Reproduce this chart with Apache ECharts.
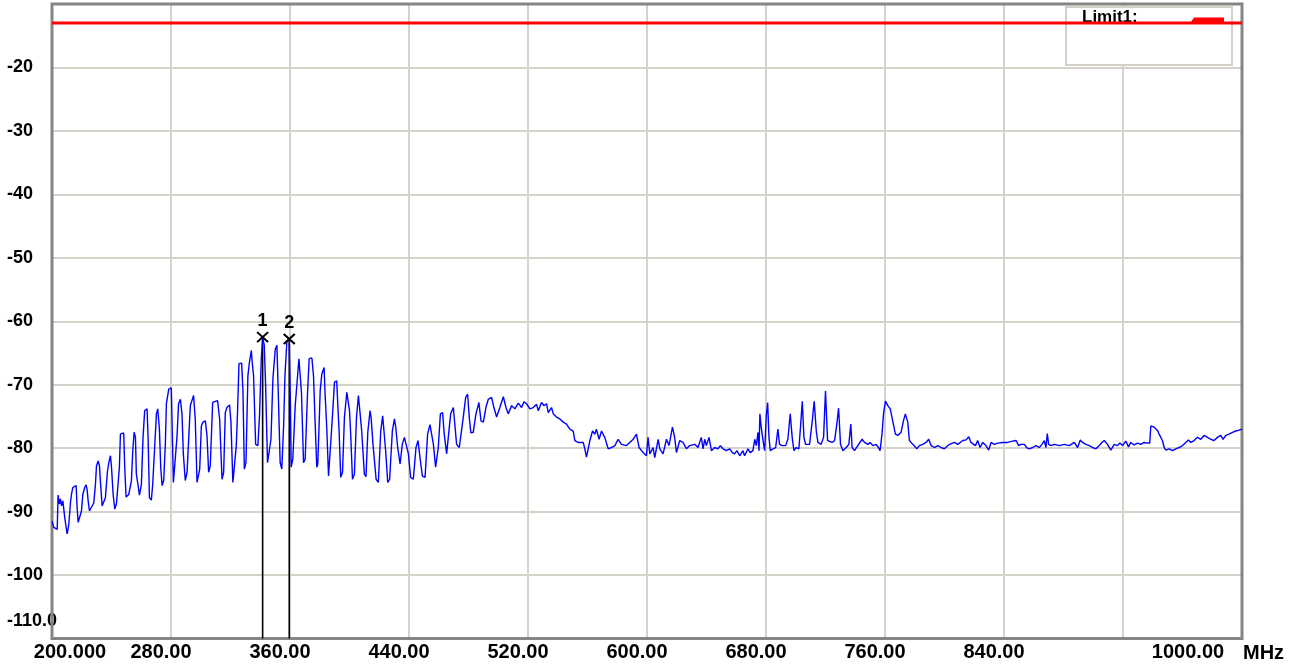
<!DOCTYPE html>
<html>
<head>
<meta charset="utf-8">
<title>Spectrum scan 200 – 1000 MHz</title>
<script src="https://cdn.jsdelivr.net/npm/echarts@6/dist/echarts.min.js"></script>
<style>
  html, body { margin: 0; padding: 0; background: #ffffff; }
  #chart { width: 1294px; height: 667px; }
</style>
</head>
<body>
<div id="chart"></div>
<script>
// ---- axis ticks ----
const xTickValues = [200, 280, 360, 440, 520, 600, 680, 760, 840, 920, 1000];
const xTickLabels = ['200.000', '280.00', '360.00', '440.00', '520.00', '600.00', '680.00', '760.00', '840.00', '', '1000.00'];
const xUnit = 'MHz';
const yTickValues = [-110, -100, -90, -80, -70, -60, -50, -40, -30, -20, -10];
const yTickLabels = ['-110.0', '-100', '-90', '-80', '-70', '-60', '-50', '-40', '-30', '-20', ''];

// ---- limit line ----
const limitName = 'Limit1:';
const limitDb = -13;

// ---- markers ----
const markerNames = ['1', '2'];
const markerFreq = [341.6, 359.5];
const markerDb = [-62.5, -62.8];

// ---- measured trace (MHz / dB) ----
const traceFreq = [
  200.0, 201.2, 203.5, 204.1, 205.0, 205.7, 206.4, 207.3, 207.9, 208.6, 209.5, 210.2,
  211.3, 212.4, 213.1, 214.0, 214.7, 216.2, 216.9, 217.6, 218.7, 219.8, 220.7, 222.0,
  222.9, 223.6, 224.3, 225.2, 226.5, 228.1, 229.2, 229.9, 231.0, 231.9, 232.6, 233.7,
  234.8, 235.9, 237.3, 238.2, 239.3, 240.0, 241.1, 242.2, 243.3, 244.4, 245.3, 246.0,
  248.2, 248.9, 249.8, 251.6, 253.4, 254.3, 255.2, 256.1, 256.7, 257.9, 258.8, 260.1,
  261.2, 262.3, 263.9, 264.6, 265.5, 266.8, 267.7, 269.0, 270.2, 271.1, 272.2, 273.1,
  274.0, 275.1, 276.2, 276.9, 278.5, 280.2, 280.9, 281.6, 282.9, 284.0, 285.1, 286.3,
  287.4, 288.3, 289.6, 290.8, 291.9, 293.0, 294.1, 295.2, 296.3, 297.5, 299.3, 300.4,
  301.5, 303.1, 304.2, 305.3, 306.4, 308.0, 309.1, 311.3, 312.7, 314.3, 315.4, 316.5,
  317.6, 319.4, 320.3, 321.6, 322.8, 323.9, 324.8, 325.7, 327.5, 328.4, 329.3, 330.4,
  331.7, 332.6, 334.0, 334.6, 335.5, 336.9, 338.4, 339.5, 340.7, 341.6, 342.7, 343.6,
  344.9, 345.8, 347.2, 348.5, 350.1, 351.2, 352.1, 353.4, 354.5, 355.7, 356.6, 357.9,
  359.5, 360.3, 360.8, 361.9, 363.5, 365.1, 366.0, 366.9, 367.7, 369.1, 370.2, 371.8,
  372.9, 374.7, 375.8, 376.9, 378.0, 378.7, 380.3, 381.4, 382.9, 383.6, 384.7, 385.9,
  387.0, 388.5, 389.9, 391.4, 392.1, 393.0, 394.1, 395.3, 396.6, 398.2, 399.3, 400.0,
  400.8, 402.0, 403.3, 404.7, 406.0, 407.1, 408.2, 410.0, 411.1, 412.3, 413.8, 414.5,
  415.8, 417.9, 419.4, 421.0, 422.3, 423.5, 424.3, 425.7, 427.0, 428.8, 430.2, 431.1,
  432.4, 434.0, 435.5, 436.9, 438.2, 439.6, 441.1, 442.9, 444.7, 446.1, 447.4, 449.0,
  450.8, 452.5, 454.1, 455.2, 456.4, 457.9, 459.7, 461.1, 462.6, 463.7, 465.3, 466.4,
  468.0, 469.8, 470.9, 472.0, 473.8, 476.5, 478.1, 479.4, 480.5, 481.6, 483.2, 485.0,
  487.0, 488.4, 490.0, 491.7, 493.3, 495.5, 497.1, 498.9, 501.1, 503.4, 505.2, 506.7,
  509.0, 511.2, 513.5, 515.7, 517.3, 519.0, 521.3, 523.5, 525.8, 526.9, 529.1, 530.7,
  532.5, 533.6, 535.8, 537.0, 539.2, 541.4, 543.7, 545.9, 548.1, 550.4, 551.5, 553.7,
  557.1, 558.2, 559.3, 561.6, 563.4, 564.9, 566.0, 567.8, 569.4, 571.6, 573.9, 576.1,
  578.4, 580.6, 582.8, 586.2, 588.4, 590.7, 592.9, 594.7, 597.4, 599.6, 600.7, 601.9,
  604.1, 605.2, 607.5, 608.6, 610.8, 613.1, 614.8, 617.1, 618.6, 619.8, 622.0, 624.2,
  626.5, 628.7, 632.1, 634.3, 636.5, 637.7, 638.8, 639.9, 641.7, 643.3, 645.5, 647.7,
  649.3, 651.1, 653.3, 655.6, 657.4, 658.9, 660.5, 662.3, 664.5, 665.6, 667.9, 669.4,
  671.2, 672.4, 673.5, 674.6, 675.3, 675.9, 676.8, 678.0, 679.1, 680.2, 681.1, 682.0,
  682.9, 684.7, 686.5, 688.0, 689.1, 690.9, 693.2, 694.7, 696.3, 697.6, 698.8, 700.3,
  702.1, 703.0, 704.4, 705.5, 706.6, 709.3, 711.1, 712.4, 713.8, 714.9, 717.1, 718.7,
  720.0, 721.4, 722.7, 724.5, 726.1, 727.6, 728.8, 730.1, 731.7, 733.9, 735.7, 737.0,
  737.9, 739.5, 741.7, 744.6, 746.2, 748.5, 750.0, 751.8, 754.0, 755.6, 756.7, 758.1,
  759.0, 760.3, 761.9, 763.5, 765.2, 767.0, 768.6, 770.8, 772.4, 773.7, 775.3, 776.4,
  778.7, 781.4, 783.1, 785.4, 787.6, 789.4, 791.0, 793.2, 795.5, 797.7, 799.9, 803.3,
  806.7, 808.9, 812.3, 814.5, 816.3, 817.8, 819.0, 820.8, 822.3, 823.9, 825.7, 827.9,
  829.7, 831.3, 833.5, 835.8, 839.1, 842.5, 845.8, 848.1, 849.9, 851.4, 853.7, 855.2,
  857.0, 859.3, 861.5, 863.7, 865.5, 867.1, 868.2, 869.1, 870.0, 871.6, 873.8, 877.2,
  880.5, 883.9, 887.2, 889.5, 891.3, 892.8, 895.1, 897.3, 899.5, 901.8, 904.0, 905.8,
  907.4, 909.6, 911.8, 914.1, 916.3, 917.9, 919.7, 921.9, 923.7, 925.3, 927.5, 929.8,
  932.0, 934.2, 936.5, 938.0, 938.7, 941.0, 943.2, 944.3, 946.5, 947.7, 948.8, 951.0,
  953.3, 955.5, 957.7, 960.0, 962.2, 964.0, 965.6, 967.8, 970.0, 972.3, 974.5, 976.8,
  979.0, 981.2, 983.5, 985.7, 987.3, 989.1, 991.3, 993.6, 995.8, 997.6, 1000.0
];
const traceDb = [
  -91.5, -92.5, -92.8, -87.4, -88.8, -88.0, -89.1, -88.3, -88.6, -91.0, -92.5, -93.5,
  -92.0, -88.6, -87.3, -86.2, -85.9, -85.9, -89.4, -91.7, -91.5, -89.9, -87.3, -86.2,
  -85.8, -86.5, -88.3, -89.9, -90.1, -88.6, -85.7, -82.8, -82.0, -82.8, -85.4, -89.1,
  -89.4, -87.8, -83.6, -82.3, -81.2, -83.0, -87.3, -89.6, -88.8, -85.7, -83.0, -77.8,
  -77.6, -83.0, -87.7, -87.3, -85.1, -80.4, -77.5, -78.3, -84.1, -85.9, -87.4, -85.7,
  -78.3, -74.1, -73.8, -78.3, -87.8, -88.2, -85.7, -79.9, -74.6, -73.8, -77.0, -83.0,
  -85.9, -85.1, -79.4, -73.0, -70.7, -70.5, -77.8, -85.4, -85.1, -78.3, -73.0, -72.3,
  -74.6, -80.9, -85.1, -83.8, -78.5, -73.3, -72.5, -71.7, -75.4, -85.4, -83.3, -76.5,
  -75.9, -75.7, -78.0, -83.8, -82.8, -72.8, -72.5, -72.5, -75.4, -84.9, -83.8, -74.4,
  -73.6, -73.2, -75.9, -85.4, -85.7, -79.6, -73.8, -66.7, -66.6, -71.2, -83.3, -82.3,
  -68.6, -66.7, -64.6, -66.5, -68.6, -79.4, -79.6, -74.9, -65.9, -62.5, -63.8, -70.1,
  -82.3, -82.5, -78.6, -69.1, -64.4, -63.8, -71.2, -82.3, -83.3, -76.5, -68.6, -63.2,
  -62.8, -73.3, -83.0, -81.7, -73.3, -68.6, -65.9, -65.9, -71.2, -82.3, -81.7, -71.2,
  -65.9, -65.8, -68.6, -76.0, -83.0, -82.5, -70.9, -68.3, -67.3, -71.5, -76.7, -84.4,
  -84.1, -75.1, -69.6, -69.4, -73.0, -77.3, -84.6, -83.8, -75.1, -71.2, -71.0, -74.1,
  -77.8, -84.9, -84.1, -75.1, -71.7, -71.7, -77.3, -84.1, -84.5, -77.5, -74.1, -75.1,
  -79.4, -84.9, -85.4, -77.3, -74.9, -75.1, -80.4, -85.4, -84.9, -77.3, -75.4, -76.7,
  -79.9, -82.5, -79.4, -78.3, -78.6, -80.9, -84.6, -84.9, -79.9, -78.8, -81.5, -84.4,
  -84.6, -77.8, -76.3, -76.2, -79.4, -83.0, -79.9, -74.6, -74.4, -77.8, -80.9, -80.7,
  -74.6, -73.6, -73.8, -79.4, -79.9, -75.1, -72.0, -71.5, -75.1, -77.6, -77.5, -74.6,
  -72.8, -75.7, -75.9, -73.6, -72.3, -72.0, -73.6, -75.1, -73.6, -71.9, -73.6, -74.6,
  -73.3, -73.8, -72.9, -73.6, -72.7, -73.0, -73.8, -73.6, -73.1, -74.1, -72.8, -73.3,
  -73.0, -74.4, -73.6, -74.6, -75.1, -75.4, -75.9, -76.2, -77.0, -77.3, -78.8, -79.1,
  -79.1, -80.1, -81.4, -78.8, -77.3, -77.8, -77.0, -78.6, -77.3, -78.3, -80.1, -79.9,
  -79.6, -78.6, -79.4, -79.6, -79.1, -78.6, -77.8, -79.9, -80.7, -81.2, -78.3, -80.9,
  -79.9, -81.5, -78.6, -80.1, -80.9, -78.6, -79.6, -76.7, -78.3, -80.7, -78.8, -79.1,
  -80.1, -79.6, -79.4, -79.9, -78.3, -80.1, -78.6, -79.6, -78.3, -80.4, -79.9, -80.1,
  -79.6, -80.1, -80.4, -80.1, -80.7, -80.9, -80.4, -81.2, -80.4, -81.2, -80.1, -80.7,
  -80.4, -78.6, -79.6, -77.5, -80.4, -74.6, -76.7, -78.8, -80.4, -74.9, -72.8, -78.3,
  -80.4, -80.1, -79.9, -77.0, -79.4, -79.6, -79.6, -78.6, -74.6, -78.3, -80.4, -79.9,
  -80.1, -77.3, -72.6, -78.3, -79.4, -79.4, -75.7, -72.6, -77.3, -79.1, -79.4, -78.3,
  -71.0, -78.8, -78.6, -79.1, -78.8, -76.2, -73.7, -79.4, -80.4, -79.9, -79.4, -76.2,
  -79.9, -80.4, -79.6, -78.6, -79.1, -79.4, -79.1, -79.6, -79.4, -79.9, -80.4, -77.5,
  -74.6, -72.6, -73.3, -73.8, -75.7, -77.8, -78.0, -77.5, -75.7, -74.6, -75.9, -78.8,
  -79.4, -80.1, -79.6, -79.4, -79.1, -78.6, -79.6, -79.9, -79.6, -79.9, -80.1, -79.4,
  -79.1, -79.4, -78.8, -78.7, -78.2, -79.1, -78.8, -79.6, -78.8, -79.9, -79.1, -79.6,
  -80.3, -79.1, -79.4, -79.2, -79.1, -79.1, -78.9, -78.8, -79.6, -79.4, -79.4, -79.9,
  -80.1, -79.9, -79.6, -79.9, -79.4, -78.8, -79.9, -77.7, -79.4, -79.6, -79.4, -79.6,
  -79.4, -79.6, -79.1, -79.9, -78.7, -79.1, -79.4, -79.6, -79.9, -80.1, -79.6, -79.1,
  -78.8, -79.4, -80.3, -79.4, -79.6, -79.2, -79.6, -78.9, -79.8, -79.1, -79.5, -79.2,
  -79.4, -79.1, -79.2, -79.2, -76.5, -76.7, -77.2, -77.8, -78.8, -79.9, -80.3, -80.1,
  -80.4, -80.1, -79.9, -79.6, -79.1, -78.7, -79.1, -78.8, -78.3, -78.6, -78.0, -78.3,
  -78.6, -78.8, -78.3, -78.0, -78.6, -78.0, -77.8, -77.5, -77.3, -77.2, -77.0
];

const FONT = "'Liberation Sans', Arial, sans-serif";

function xLabel(value) {
  const i = xTickValues.indexOf(Math.round(value));
  if (i < 0 || !xTickLabels[i]) return '';
  if (i === 0) return '{first|' + xTickLabels[i] + '}';
  if (i === xTickValues.length - 1) return '{last|' + xTickLabels[i] + '}';
  return '{mid|' + xTickLabels[i] + '}';
}

function yLabel(value) {
  const i = yTickValues.indexOf(Math.round(value));
  if (i < 0 || !yTickLabels[i]) return '';
  return (i === 0 ? '{low|' : '{n|') + yTickLabels[i] + '}';
}

const xText = { fontFamily: FONT, fontWeight: 'bold', fontSize: 20, color: '#000000' };
const yText = { fontFamily: FONT, fontWeight: 'bold', fontSize: 18, color: '#000000' };

const markerLineSeries = markerFreq.map((f, i) => ({
  type: 'line',
  data: [[f, markerDb[i]], [f, yTickValues[0]]],
  symbol: 'none',
  lineStyle: { color: '#000000', width: 1.6 },
  silent: true,
  z: 3
}));

const chart = echarts.init(document.getElementById('chart'), null, { renderer: 'canvas' });

chart.setOption({
  animation: false,
  backgroundColor: '#ffffff',
  grid: {
    left: 52, top: 4, width: 1190, height: 634.5,
    show: true, borderColor: '#858585', borderWidth: 3, backgroundColor: 'transparent',
    z: 2
  },
  xAxis: {
    type: 'value',
    min: 200,
    max: 1000,
    axisLine: { show: false },
    axisTick: { show: false, customValues: xTickValues },
    splitLine: { show: true, lineStyle: { color: '#d6d2ca', width: 2 } },
    axisLabel: {
      customValues: xTickValues,
      formatter: xLabel,
      margin: 14,
      verticalAlign: 'middle',
      rich: {
        mid: Object.assign({ padding: [0, 20, 0, 0] }, xText),
        first: Object.assign({ padding: [0, 0, 0, 36] }, xText),
        last: Object.assign({ padding: [0, 108, 0, 0] }, xText)
      }
    }
  },
  yAxis: {
    type: 'value',
    min: -110,
    max: -10,
    interval: 10,
    axisLine: { show: false },
    axisTick: { show: false },
    splitLine: { show: true, lineStyle: { color: '#d6d2ca', width: 2 } },
    axisLabel: {
      formatter: yLabel,
      align: 'left',
      margin: 45,
      rich: {
        n: Object.assign({}, yText),
        low: Object.assign({ padding: [0, 0, 35, 0] }, yText)
      }
    }
  },
  graphic: [
    {
      type: 'rect', z: 1,
      shape: { x: 1066, y: 7, width: 166, height: 58 },
      style: { fill: '#ffffff', stroke: '#d4d0c8', lineWidth: 2 }
    },
    {
      type: 'text', z: 2, x: 1082, y: 9,
      style: { text: limitName, fontFamily: FONT, fontWeight: 'bold', fontSize: 17, fill: '#000000' }
    },
    {
      type: 'polygon', z: 20,
      shape: { points: [[1191, 22], [1194, 17.5], [1224, 17.5], [1224, 23.5], [1191, 23.5]] },
      style: { fill: '#ff0000' }
    },
    {
      type: 'text', z: 2, x: 1243, y: 653.5,
      style: { text: xUnit, fontFamily: FONT, fontWeight: 'bold', fontSize: 20, fill: '#000000', verticalAlign: 'middle' }
    }
  ],
  series: [
    ...markerLineSeries,
    {
      name: 'trace',
      type: 'line',
      data: traceFreq.map((f, i) => [f, traceDb[i]]),
      symbol: 'none',
      lineStyle: { color: '#0000ff', width: 1.4 },
      silent: true,
      z: 4
    },
    {
      name: limitName,
      type: 'line',
      data: [[xTickValues[0], limitDb], [xTickValues[xTickValues.length - 1], limitDb]],
      symbol: 'none',
      lineStyle: { color: '#ff0000', width: 3 },
      silent: true,
      z: 10
    },
    {
      name: 'markers',
      type: 'scatter',
      data: markerFreq.map((f, i) => [f, markerDb[i]]),
      symbol: 'path://M0,0L12,11M12,0L0,11',
      symbolSize: [11, 10],
      itemStyle: { color: 'transparent', borderColor: '#000000', borderWidth: 2, opacity: 1 },
      label: {
        show: true,
        position: 'top',
        distance: 1,
        formatter: (p) => markerNames[p.dataIndex],
        fontFamily: FONT, fontWeight: 'bold', fontSize: 18, color: '#000000', opacity: 1
      },
      silent: true,
      z: 6
    }
  ]
});
</script>
</body>
</html>
